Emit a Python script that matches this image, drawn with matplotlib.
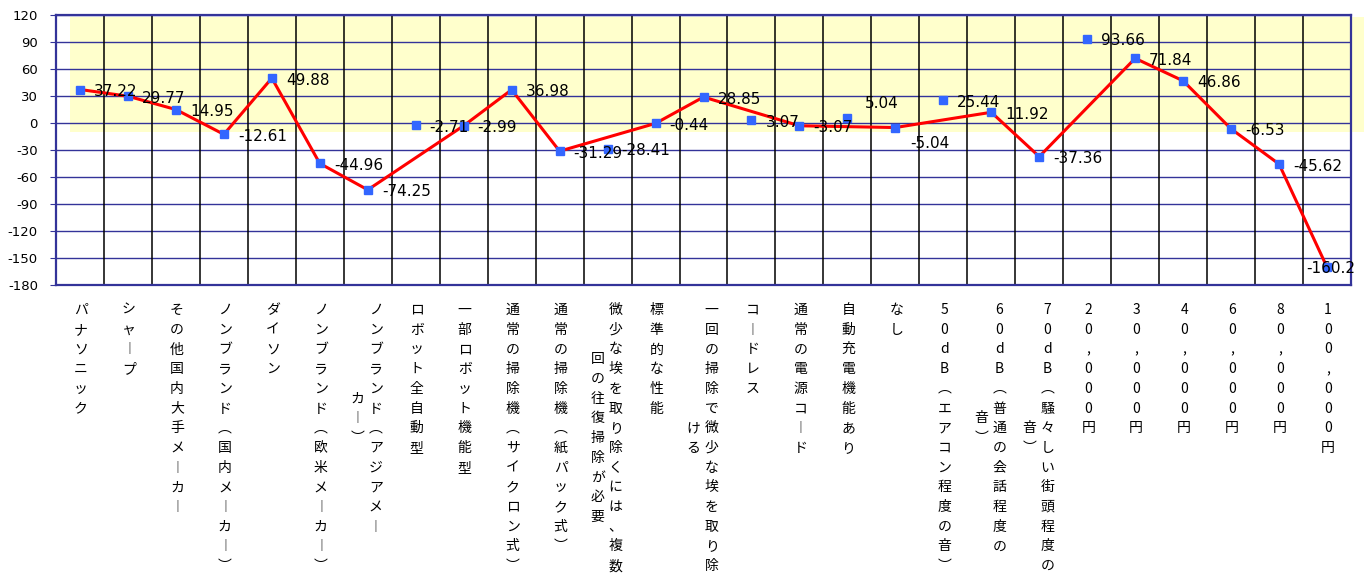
import matplotlib.pyplot as plt
from matplotlib.patches import Rectangle
from matplotlib.transforms import offset_copy

plt.rcParams['axes.unicode_minus'] = False

# categories; "\n" marks where the stacked label continues in a second column
categories = [
    "パナソニック", "シャープ", "その他国内大手メーカー", "ノンブランド（国内メーカー）",
    "ダイソン", "ノンブランド（欧米メーカー）", "ノンブランド（アジアメー\nカー）",
    "ロボット全自動型", "一部ロボット機能型", "通常の掃除機（サイクロン式）",
    "通常の掃除機（紙パック式）", "微少な埃を取り除くには、複数\n回の往復掃除が必要",
    "標準的な性能", "一回の掃除で微少な埃を取り除\nける", "コードレス", "通常の電源コード",
    "自動充電機能あり", "なし", "50dB（エアコン程度の音）", "60dB（普通の会話程度の\n音）",
    "70dB（騒々しい街頭程度の\n音）", "20,000円", "30,000円", "40,000円",
    "60,000円", "80,000円", "100,000円",
]
values = [37.22, 29.77, 14.95, -12.61, 49.88, -44.96, -74.25, -2.71, -2.99, 36.98,
          -31.29, -28.41, -0.44, 28.85, 3.07, -3.07, 5.04, -5.04, 25.44, 11.92,
          -37.36, 93.66, 71.84, 46.86, -6.53, -45.62, -160.2]
# points joined by the red line (the others are shown as markers only)
on_line = [True, True, True, True, True, True, True, False, True, True,
           True, False, True, True, False, True, False, True, False, True,
           True, False, True, True, True, True, True]
yticks = list(range(-180, 121, 30))

navy = '#333399'
fig = plt.figure(figsize=(13.64, 5.77), dpi=100)
ax = fig.add_axes([56 / 1364, 1 - 285 / 577, 1295 / 1364, 270 / 577])
n = len(categories)
ax.set_xlim(-0.5, n - 0.5)
ax.set_ylim(-180, 120)

# pale yellow band behind the upper part of the plot
ax.add_patch(Rectangle((-0.21, -10), n + 0.38, 128, facecolor='#FFFFCC',
                       edgecolor='none', zorder=0, clip_on=False))

for y in yticks:
    ax.axhline(y, color=navy, lw=1, zorder=1)
for k in range(1, n):
    ax.axvline(k - 0.5, color='black', lw=1.1, zorder=1)
for s in ax.spines.values():
    s.set_color(navy)
    s.set_linewidth(1.6)
    s.set_zorder(3)

ax.set_yticks(yticks)
ax.tick_params(axis='y', length=4, color=navy, pad=9, labelsize=9.5)
ax.set_xticks([])

xs = [i for i in range(n) if on_line[i]]
ax.plot(xs, [values[i] for i in xs], color='#FF0000', lw=2.2, zorder=4)
ax.plot(range(n), values, ls='none', marker='s', ms=6.2, color='#3366FF', zorder=5)

# data labels
label_offsets = {16: (17, 15), 17: (15, -16)}
for i, v in enumerate(values):
    if i == n - 1:
        ax.annotate(str(v), (i, v), xytext=(4, -1), textcoords='offset pixels',
                    ha='center', va='center', fontsize=11, zorder=6)
        continue
    dx, dy = label_offsets.get(i, (14, -2))
    ax.annotate(str(v), (i, v), xytext=(dx, dy), textcoords='offset pixels',
                ha='left', va='center', fontsize=11, zorder=6)

# stacked vertical category labels, one character per row
vert = str.maketrans({'（': '︵', '）': '︶', 'ー': '︱'})
row_h = 19.7
base = ax.get_xaxis_transform()
for i, lab in enumerate(categories):
    cols = lab.translate(vert).split('\n')
    n1 = len(cols[0])
    col_dx = [1, 0] if len(cols) == 1 else [8, -10]
    for c, text in enumerate(cols):
        start = 0 if c == 0 else (n1 - 1) / 2 - (len(text) - 1) / 2
        for r, ch in enumerate(text):
            tr = offset_copy(base, fig=fig, x=col_dx[c], y=-(25 + (start + r) * row_h), units='dots')
            ax.text(i, 0, ch, transform=tr, ha='center', va='center', fontsize=10,
                    family=['Noto Sans CJK JP', 'DejaVu Sans'], clip_on=False)

fig.savefig('out.png', dpi=100)
